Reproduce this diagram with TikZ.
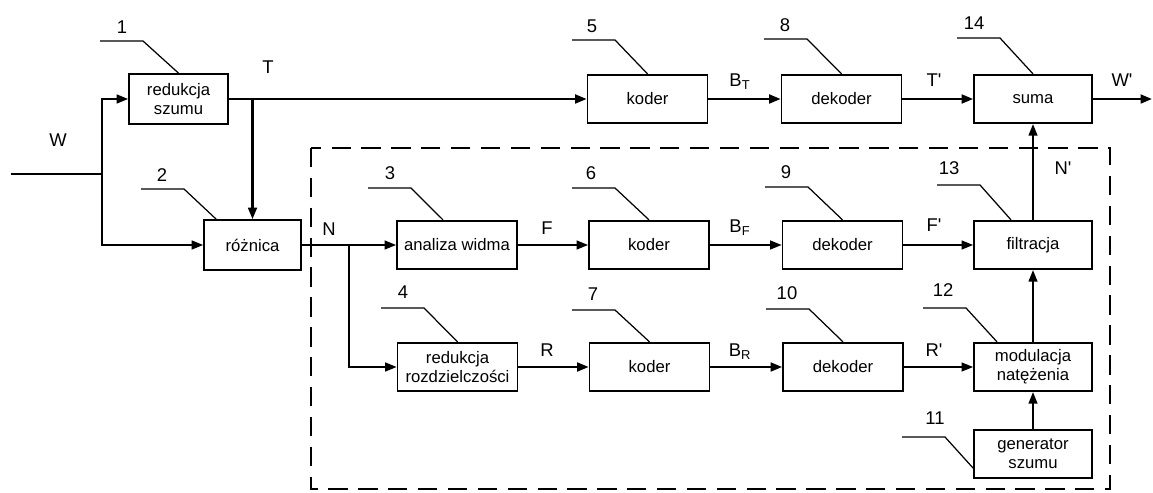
\documentclass[tikz,border=0pt]{standalone}
\usepackage{fontspec}
\setmainfont{Liberation Sans}
\usetikzlibrary{calc,arrows.meta}
\tikzset{
	box/.style={draw, line width=1pt, minimum width=2.4cm, minimum height=0.97cm, align=center, inner sep=1pt, font=\fontsize{9.5}{11}\selectfont},
	num/.style={inner sep=0pt, font=\fontsize{10.5}{12}\selectfont},
	sig/.style={inner sep=0pt, font=\fontsize{10.5}{12}\selectfont},
	lead/.style={line width=0.7pt},
	flow/.style={-{Triangle[length=6.5pt,width=5pt]}, line width=0.9pt},
	main/.style={flow, line width=1.3pt},
}
\def\callout#1#2#3#4#5{\node[num] (#1) at (#2) {#5};
	\draw[lead] (#3) -- ++(43,0) -- (#4);}

\begin{document}
\begin{tikzpicture}[x=0.02cm, y=-0.02cm]
		%%%%% START %%%%%
		\useasboundingbox (0,0) rectangle (1153,493);
		
		\draw[line width=0.8pt, dash pattern=on 11pt off 6pt] (311,148) rectangle (1110,489);
		
		\node[box, minimum width=1.98cm, minimum height=1cm] (red1) at (178.5,99) {redukcja\\szumu};
		\node[box, minimum width=1.94cm, minimum height=1cm] (roz2) at (252.5,245) {różnica};
		\node[box] (kod5) at (647.5,99) {koder};
		\node[box] (dek8) at (841.5,99) {dekoder};
		\node[box, minimum width=2.36cm] (sum14) at (1033,99) {suma};
		
		\node[box] (ana3) at (457,245) {analiza widma};
		\node[box] (kod6) at (649,245) {koder};
		\node[box] (dek9) at (842.5,245) {dekoder};
		\node[box, minimum width=2.36cm] (fil13) at (1033,245) {filtracja};
		
		\node[box] (red4) at (457.5,367) {redukcja\\rozdzielczości};
		\node[box] (kod7) at (649.5,367) {koder};
		\node[box] (dek10) at (843,367) {dekoder};
		\node[box, minimum width=2.36cm] (mod12) at (1033,367) {modulacja\\natężenia};
		\node[box, minimum width=2.36cm] (gen11) at (1033,454) {generator\\szumu};
		
		\callout{c1}{122,27}{100,41}{red1.north}{1}
		\callout{c2}{162,175}{141,189}{$(roz2.north west)+(13,0)$}{2}
		\callout{c3}{390,173}{368,188}{$(ana3.north)+(-14,0)$}{3}
		\callout{c4}{403,292}{381,308}{red4.north}{4}
		\callout{c5}{592,26}{572,40}{kod5.north}{5}
		\callout{c6}{591,173}{572,188}{kod6.north}{6}
		\callout{c7}{593,294}{572,310}{kod7.north}{7}
		\callout{c8}{785,25}{764,39}{dek8.north}{8}
		\callout{c9}{786,172}{765,187}{dek9.north}{9}
		\callout{c10}{787,293}{766,309}{dek10.north}{10}
		\callout{c11}{935,418}{902,437}{$(gen11.south west)+(0,-11)$}{11}
		\callout{c12}{943,290}{923,308}{$(mod12.north)+(-36,0)$}{12}
		\callout{c13}{949,168}{937,185}{$(fil13.north)+(-22,0)$}{13}
		\callout{c14}{974,23}{957,38}{sum14.north}{14}
		
		\coordinate (w0) at (11,174);
		\coordinate (wsplit) at (102,174);
		\draw[line width=1.1pt] (w0) -- (wsplit);
		\draw[flow, line width=1.1pt] (wsplit) |- (red1);
		\draw[flow, line width=1.1pt] (wsplit) |- (roz2);
		
		\coordinate (tsplit) at (roz2.north |- red1.east);
		\draw[main] (red1) -- (kod5);
		\draw[main] (tsplit) -- (roz2);
		\draw[main] (kod5) -- (dek8);
		\draw[main] (dek8) -- (sum14);
		\coordinate (wout) at (1152,99);
		\draw[main] (sum14) -- (wout);
		
		\coordinate (nsplit) at ($(roz2.east)!0.5!(ana3.west)$);
		\draw[flow] (roz2) -- (ana3);
		\draw[flow, line width=1.1pt] (nsplit) |- (red4);
		\draw[flow] (ana3) -- (kod6);
		\draw[flow] (kod6) -- (dek9);
		\draw[flow] (dek9) -- (fil13);
		
		\draw[main] (red4) -- (kod7);
		\draw[main] (kod7) -- (dek10);
		\draw[flow] (dek10) -- (mod12);
		
		\draw[flow] (gen11) -- (mod12);
		\draw[flow] (mod12) -- (fil13);
		\draw[flow] (fil13) -- (sum14);
		
		\node[sig] (lw) at (58,140) {W};
		\node[sig] (lt) at (268,67) {T};
		\node[sig] (ln) at (329,229) {N};
		\node[sig] (lf) at (547,228) {F};
		\node[sig] (lr) at (547,350) {R};
		\node[sig] (lbt) at (740,82) {B\textsubscript{T}};
		\node[sig] (lbf) at (740,228) {B\textsubscript{F}};
		\node[sig] (lbr) at (740,352) {B\textsubscript{R}};
		\node[sig] (ltp) at (934,80) {T\textquotesingle};
		\node[sig] (lfp) at (934,225) {F\textquotesingle};
		\node[sig] (lrp) at (934,350) {R\textquotesingle};
		\node[sig] (lwp) at (1122,80) {W\textquotesingle};
		\node[sig] (lnp) at (1063,168) {N\textquotesingle};
		
		%%%%% END %%%%%
	\end{tikzpicture}
\end{document}
